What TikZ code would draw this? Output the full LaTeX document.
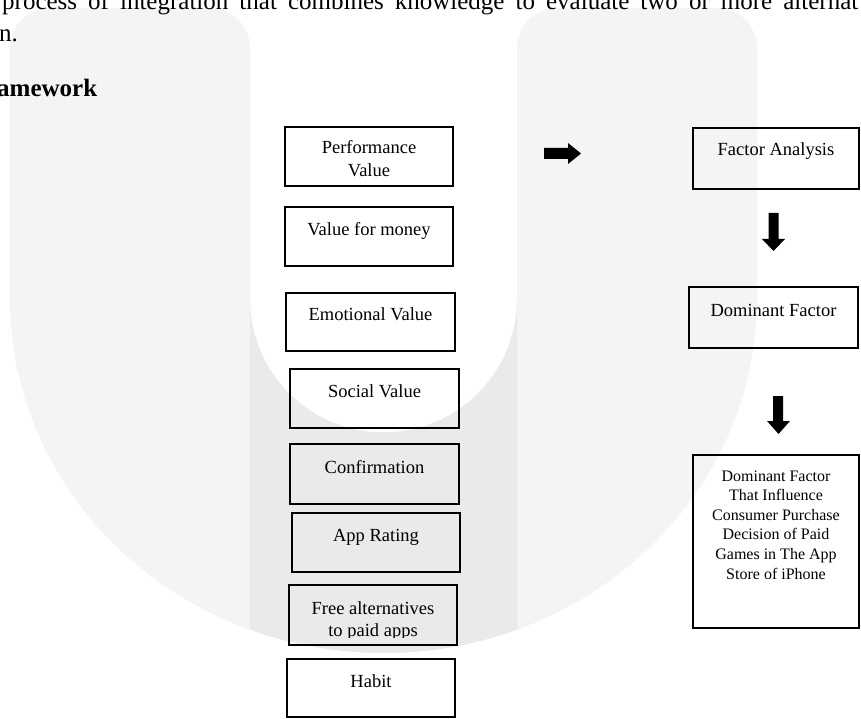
\documentclass[tikz,border=0pt]{standalone}
\usepackage{fontspec}
\setmainfont{Liberation Serif}
\definecolor{wmlight}{HTML}{F4F4F4}
\definecolor{wmdark}{HTML}{EAEAEA}
\newcommand\boxfont{\fontsize{18.5}{23}\selectfont}
\newcommand\smallboxfont{\fontsize{16}{19.6}\selectfont}
\newcommand\bc[4]{\parbox[c][#2pt][t]{#1pt}{\centering\rule{0pt}{#3pt}#4}}
\tikzset{
  box/.style={draw, line width=2pt, inner sep=0pt, outer sep=0pt, font=\boxfont},
  bodytext/.style={anchor=base west, inner sep=0pt, font=\fontsize{25}{30}\selectfont},
  blockarrow/.style={fill=black, draw=none}
}
\begin{document}
\begin{tikzpicture}[x=1pt,y=1pt]
\useasboundingbox (0,0) rectangle (861,-719);
\clip (0,0) rectangle (861,-719);
% watermark
\fill[wmlight] (10,-299) [rounded corners=40pt] -- (10,-8) -- (250,-8) -- (250,-100) [sharp corners] -- (250,-299)
  arc[start angle=180, end angle=360, radius=133.5]
  [rounded corners=40pt] -- (517,-100) -- (517,-8) -- (757,-8) -- (757,-100) [sharp corners] -- (757,-299)
  arc[start angle=0, end angle=-180, x radius=373.5, y radius=354] -- cycle;
\fill[wmdark] (250,-299) arc[start angle=180, end angle=360, radius=133.5]
  -- (517,-629.6) arc[start angle=-69.06, end angle=-110.94, x radius=373.5, y radius=354] -- cycle;
% body text
\node[bodytext] (l1) at (2,-9.5) {\makebox[856pt][s]{process of integration that combines knowledge to evaluate two or more alternat}};
\node[bodytext] (l2) at (-1,-41.7) {n.};
\node[bodytext, font=\fontsize{25}{30}\selectfont\bfseries] (l3) at (-3,-96.7) {amework};
% left column
\node[box] (pv) at (369,-156.5) {\bc{168}{59}{27}{Performance\\Value}};
\node[box] (vfm) at (369,-236.5) {\bc{168}{59}{29}{Value for money}};
\node[box] (ev) at (370.5,-322) {\bc{169}{58}{27}{Emotional Value}};
\node[box] (sv) at (374.5,-398.5) {\bc{169}{59}{28}{Social Value}};
\node[box] (conf) at (374.5,-474) {\bc{169}{60}{29}{Confirmation}};
\node[box] (ar) at (376,-542.5) {\bc{168}{59}{28}{App Rating}};
\node[box] (fa) at (373,-615) {\bc{168}{60}{0}{}};
\begin{scope}
  \clip (288,-584) rectangle (458,-637);
  \node[inner sep=0pt, anchor=north, font=\fontsize{18.5}{22}\selectfont] (fatext) at (fa.north) {\bc{168}{60}{29}{Free alternatives\\to paid apps}};
\end{scope}
\node[box] (hab) at (371,-688) {\bc{168}{58}{28}{Habit}};
% right column
\node[box] (fan) at (776,-158.5) {\bc{166}{61}{28}{Factor Analysis}};
\node[box] (df) at (773.5,-317.5) {\bc{169}{61}{29}{Dominant Factor}};
\node[box, font=\smallboxfont] (fin) at (776,-541.5) {\bc{166}{173}{26}{Dominant Factor\\That Influence\\Consumer Purchase\\Decision of Paid\\Games in The App\\Store of iPhone}};
% block arrows
\fill[blockarrow] (544,-148) -- (568,-148) -- (568,-143) -- (581,-153.5) -- (568,-164) -- (568,-159) -- (544,-159) -- cycle;
\fill[blockarrow] (768.5,-213) -- (778.5,-213) -- (778.5,-239) -- (785,-239) -- (773.5,-251) -- (762,-239) -- (768.5,-239) -- cycle;
\fill[blockarrow] (773,-396) -- (783,-396) -- (783,-421) -- (790,-421) -- (778.5,-434) -- (767,-421) -- (773,-421) -- cycle;
\end{tikzpicture}
\end{document}
